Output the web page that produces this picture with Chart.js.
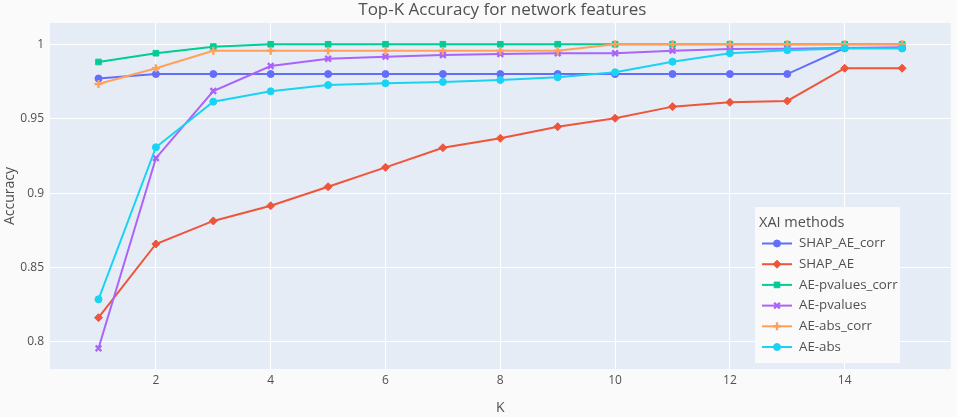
<!DOCTYPE html>
<html>
<head>
<meta charset="utf-8">
<script src="https://cdn.jsdelivr.net/npm/chart.js@4.4.1/dist/chart.umd.min.js"></script>
<style>
  html, body { margin: 0; padding: 0; background: #fafafa; }
  #wrap { width: 957px; height: 417px; }
</style>
</head>
<body>
<div id="wrap"><canvas id="chart" width="957" height="417"></canvas></div>
<script>
// Top-K accuracy per XAI method, K = 1..15
const kValues = [1, 2, 3, 4, 5, 6, 7, 8, 9, 10, 11, 12, 13, 14, 15];
const shapAeCorr    = [0.977, 0.98, 0.98, 0.98, 0.98, 0.98, 0.98, 0.98, 0.98, 0.98, 0.98, 0.98, 0.98, 0.9975, 0.9975];
const shapAe        = [0.8163, 0.8658, 0.8813, 0.8915, 0.9043, 0.9173, 0.9305, 0.9368, 0.9446, 0.9503, 0.9581, 0.961, 0.9619, 0.9839, 0.9839];
const aePvaluesCorr = [0.9881, 0.994, 0.9984, 1, 1, 1, 1, 1, 1, 1, 1, 1, 1, 1, 1];
const aePvalues     = [0.7957, 0.9235, 0.9686, 0.9854, 0.9903, 0.9917, 0.9928, 0.9935, 0.994, 0.994, 0.9957, 0.9968, 0.997, 0.9975, 0.998];
const aeAbsCorr     = [0.9733, 0.9839, 0.9957, 0.9957, 0.9957, 0.9957, 0.9957, 0.9957, 0.9957, 1, 1, 1, 1, 1, 1];
const aeAbs         = [0.8286, 0.9308, 0.9614, 0.9684, 0.9726, 0.9738, 0.9747, 0.976, 0.9778, 0.9812, 0.9883, 0.994, 0.996, 0.9972, 0.9972];

const seriesNames = ['SHAP_AE_corr', 'SHAP_AE', 'AE-pvalues_corr', 'AE-pvalues', 'AE-abs_corr', 'AE-abs'];
const seriesValues = [shapAeCorr, shapAe, aePvaluesCorr, aePvalues, aeAbsCorr, aeAbs];
const seriesColors = ['#636efa', '#EF553B', '#00cc96', '#ab63fa', '#FFA15A', '#19d3f3'];
const seriesMarkers = ['circle', 'rectRot', 'rect', 'crossRot', 'cross', 'circle'];

const xTickValues = [2, 4, 6, 8, 10, 12, 14];
const yTickValues = [0.8, 0.85, 0.9, 0.95, 1];

const chartTitle = 'Top-K Accuracy for network features';
const legendTitle = 'XAI methods';
const FONT = '"Open Sans", "Liberation Sans", Arial, sans-serif';
const TEXT_COLOR = '#505050';

function markerSize(style) {
  return style === 'circle' ? 3.5 : 4;
}
function markerBorder(style) {
  return (style === 'crossRot' || style === 'cross') ? 2.4 : 1;
}

const datasets = seriesNames.map((name, i) => ({
  label: name,
  data: kValues.map((k, j) => ({ x: k, y: seriesValues[i][j] })),
  borderColor: seriesColors[i],
  backgroundColor: seriesColors[i],
  pointBackgroundColor: seriesColors[i],
  pointBorderColor: seriesColors[i],
  pointStyle: seriesMarkers[i],
  pointRadius: markerSize(seriesMarkers[i]),
  pointBorderWidth: markerBorder(seriesMarkers[i]),
  borderWidth: 2,
  tension: 0,
  order: seriesNames.length - i   // later series drawn on top
}));

// plot background and chart title
const backdrop = {
  id: 'backdrop',
  beforeDraw(chart) {
    const { ctx, chartArea: a } = chart;
    ctx.save();
    ctx.fillStyle = '#fafafa';
    ctx.fillRect(0, 0, chart.width, chart.height);
    ctx.fillStyle = '#e5ecf6';
    ctx.fillRect(a.left, a.top, a.right - a.left, a.bottom - a.top);
    ctx.restore();
  },
  afterDraw(chart) {
    const { ctx, chartArea: a } = chart;
    ctx.save();
    ctx.fillStyle = TEXT_COLOR;
    ctx.font = '17px ' + FONT;
    ctx.textAlign = 'center';
    ctx.textBaseline = 'middle';
    ctx.fillText(chartTitle, (a.left + a.right) / 2 + 2, 10);
    ctx.restore();
  }
};

// legend box inside the plot area
const legendBox = {
  id: 'legendBox',
  afterDraw(chart) {
    const { ctx } = chart;
    const left = 755, top = 207, width = 145, height = 156;
    ctx.save();
    ctx.fillStyle = '#fafafa';
    ctx.fillRect(left, top, width, height);
    ctx.fillStyle = TEXT_COLOR;
    ctx.textBaseline = 'middle';
    ctx.textAlign = 'left';
    ctx.font = '14.5px ' + FONT;
    ctx.fillText(legendTitle, 759, 223);
    ctx.font = '13.3px ' + FONT;
    chart.data.datasets.forEach((ds, i) => {
      const y = 243.5 + i * 20.7;
      ctx.strokeStyle = ds.borderColor;
      ctx.lineWidth = 2;
      ctx.beginPath();
      ctx.moveTo(762, y);
      ctx.lineTo(792, y);
      ctx.stroke();
      ctx.fillStyle = ds.pointBackgroundColor;
      ctx.strokeStyle = ds.pointBorderColor;
      ctx.lineWidth = ds.pointBorderWidth;
      Chart.helpers.drawPoint(ctx, { pointStyle: ds.pointStyle, radius: ds.pointRadius, borderWidth: ds.pointBorderWidth, rotation: 0 }, 777, y);
      ctx.fillStyle = TEXT_COLOR;
      ctx.fillText(ds.label, 799, y);
    });
    ctx.restore();
  }
};

new Chart(document.getElementById('chart'), {
  type: 'line',
  data: { datasets },
  options: {
    responsive: false,
    animation: false,
    devicePixelRatio: 1,
    layout: { padding: { top: 23, right: 2, left: 0, bottom: 0 } },
    plugins: {
      legend: { display: false },
      title: { display: false },
      tooltip: { enabled: false }
    },
    scales: {
      x: {
        type: 'linear',
        min: 0.155,
        max: 15.845,
        afterBuildTicks(scale) { scale.ticks = xTickValues.map(v => ({ value: v })); },
        afterFit(scale) { scale.height = 48; },
        grid: { color: '#ffffff', lineWidth: 1, drawTicks: false },
        border: { display: false },
        ticks: {
          autoSkip: false,
          maxRotation: 0,
          padding: 4,
          color: TEXT_COLOR,
          font: { family: FONT, size: 12 },
          callback: v => String(v)
        },
        title: {
          display: true,
          text: 'K',
          color: TEXT_COLOR,
          font: { family: FONT, size: 14 },
          padding: { top: 0, bottom: 1 }
        }
      },
      y: {
        type: 'linear',
        min: 0.7818,
        max: 1.0143,
        afterBuildTicks(scale) { scale.ticks = yTickValues.map(v => ({ value: v })); },
        afterFit(scale) { scale.width = 50; },
        grid: { color: '#ffffff', lineWidth: 1, drawTicks: false },
        border: { display: false },
        ticks: {
          padding: 6,
          color: TEXT_COLOR,
          font: { family: FONT, size: 12 },
          callback: v => String(v)
        },
        title: {
          display: true,
          text: 'Accuracy',
          color: TEXT_COLOR,
          font: { family: FONT, size: 14 },
          padding: { top: 2, bottom: 0 }
        }
      }
    }
  },
  plugins: [backdrop, legendBox]
});
</script>
</body>
</html>
